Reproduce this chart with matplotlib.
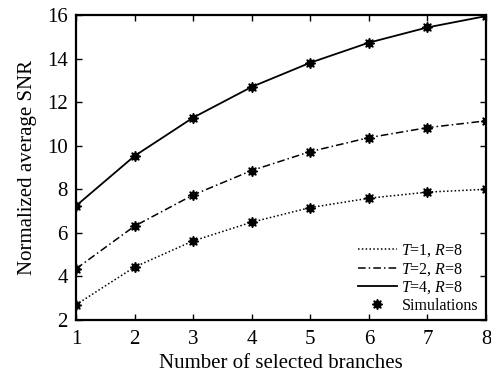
import matplotlib.pyplot as plt
from matplotlib.lines import Line2D

plt.rcParams['font.family'] = 'Liberation Serif'
plt.rcParams['mathtext.fontset'] = 'custom'
plt.rcParams['mathtext.rm'] = 'Liberation Serif'
plt.rcParams['mathtext.it'] = 'Liberation Serif:italic'

branches = [1, 2, 3, 4, 5, 6, 7, 8]
snr_t1 = [2.70, 4.43, 5.63, 6.49, 7.16, 7.59, 7.87, 8.00]
snr_t2 = [4.35, 6.31, 7.74, 8.86, 9.73, 10.37, 10.83, 11.14]
snr_t4 = [7.24, 9.53, 11.29, 12.70, 13.81, 14.73, 15.43, 15.95]

fig = plt.figure(figsize=(4.91, 3.74), dpi=100)
ax = fig.add_axes([0.1548, 0.1444, 0.835, 0.8155])

# analytical curves
ax.plot(branches, snr_t1, color='black', linestyle=(0, (1, 1.5)), linewidth=1.1)
ax.plot(branches, snr_t2, color='black', linestyle=(0, (5, 2, 1, 2)), linewidth=1.1)
ax.plot(branches, snr_t4, color='black', linestyle='-', linewidth=1.3)

# simulation points
star = (8, 1, 0)
for vals in [snr_t1, snr_t2, snr_t4]:
    ax.plot(branches, vals, linestyle='none', marker=star, color='black', markersize=7.5)

ax.set_xlim(1, 8)
ax.set_ylim(2, 16)
ax.set_xticks(branches)
ax.set_yticks(range(2, 17, 2))
ax.tick_params(direction='in', top=True, right=True, length=4, width=1, labelsize=15)
ax.tick_params(axis='x', pad=7)
ax.tick_params(axis='y', pad=6)
for s in ax.spines.values():
    s.set_linewidth(1.6)

ax.set_xlabel('Number of selected branches', fontsize=15, labelpad=4)
ax.set_ylabel('Normalized average SNR', fontsize=15, labelpad=7)

handles = [
    Line2D([], [], color='black', linestyle=(0, (1, 1.5)), linewidth=1.1),
    Line2D([], [], color='black', linestyle=(0, (5, 2, 1, 2)), linewidth=1.1),
    Line2D([], [], color='black', linestyle='-', linewidth=1.3),
    Line2D([], [], linestyle='none', marker=star, color='black', markersize=7.5),
]
labels = [r'$T$=1, $R$=8', r'$T$=2, $R$=8', r'$T$=4, $R$=8', 'Simulations']
ax.legend(handles, labels, loc='lower right', frameon=False, fontsize=11.5,
          handlelength=2.4, handletextpad=0.3, labelspacing=0.1,
          borderaxespad=0.1, bbox_to_anchor=(1.0, -0.005))

plt.savefig('out.png', dpi=100)
